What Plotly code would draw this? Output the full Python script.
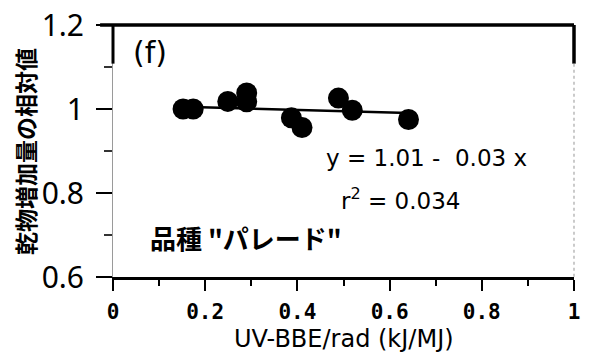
import plotly.graph_objects as go

# UV-BBE/rad (kJ/MJ) and relative dry-matter gain for cultivar "パレード"
uv_bbe = [0.152, 0.174, 0.249, 0.290, 0.290, 0.387, 0.410, 0.489, 0.519, 0.641]
rel_gain = [1.000, 1.000, 1.018, 1.038, 1.017, 0.979, 0.956, 1.026, 0.997, 0.975]

# fitted regression  y = a + b x
fit_a = 1.01
fit_b = -0.03
fit_r2 = 0.034

x_ticks = [0, 0.2, 0.4, 0.6, 0.8, 1]
x_tick_text = ["0", "0.2", "0.4", "0.6", "0.8", "1"]
y_ticks = [0.6, 0.8, 1.0, 1.2]
y_tick_text = ["0.6", "0.8", "1", "1.2"]

x_fit = [min(uv_bbe), max(uv_bbe)]
y_fit = [fit_a + fit_b * v for v in x_fit]

sans = "Noto Sans, Open Sans, sans-serif"
wide = "DejaVu Sans, sans-serif"
cjk = "Noto Sans CJK JP, sans-serif"
mono = "DejaVu Sans Mono, monospace"

fig = go.Figure()
fig.add_trace(go.Scatter(x=x_fit, y=y_fit, mode="lines",
                         line=dict(color="black", width=2.5),
                         hoverinfo="skip", showlegend=False))
fig.add_trace(go.Scatter(x=uv_bbe, y=rel_gain, mode="markers",
                         marker=dict(color="black", size=21),
                         showlegend=False))

fig.update_layout(
    width=593, height=354,
    margin=dict(l=113, r=19, t=25, b=77),
    paper_bgcolor="white", plot_bgcolor="white",
    xaxis=dict(range=[0, 1], tickvals=x_ticks, ticktext=x_tick_text,
               automargin=False,
               showgrid=False, zeroline=False,
               showline=True, linecolor="black", linewidth=3,
               ticks="outside", ticklen=11, tickwidth=2, tickcolor="black",
               minor=dict(dtick=0.1, ticks="outside", ticklen=6,
                          tickwidth=2, tickcolor="black"),
               ticklabelstandoff=3,
               tickfont=dict(family=mono, size=21, color="black",
                             weight="bold")),
    yaxis=dict(range=[0.6, 1.2], tickvals=y_ticks, ticktext=y_tick_text,
               automargin=False,
               showgrid=False, zeroline=False,
               showline=True, linecolor="#9a9a9a", linewidth=1,
               ticks="outside", ticklen=16, tickwidth=2, tickcolor="black",
               minor=dict(dtick=0.1, ticks="outside", ticklen=8,
                          tickwidth=1.5, tickcolor="#333"),
               ticklabelstandoff=6,
               tickfont=dict(family=sans, size=30, color="black")),
)

# axis titles
fig.add_annotation(x=0.5, y=-0.245, xref="paper", yref="paper",
                   text="UV-BBE/rad (kJ/MJ)", showarrow=False,
                   xanchor="center", yanchor="middle",
                   font=dict(family=wide, size=24, color="black"))
fig.add_annotation(x=-0.191, y=0.5, xref="paper", yref="paper",
                   text="<b>乾物増加量の相対値</b>", showarrow=False,
                   textangle=-90, xanchor="center", yanchor="middle",
                   font=dict(family=cjk, size=23, color="black"))

# frame: heavy top rule, heavy upper stubs, faint right edge
fig.add_shape(type="line", xref="paper", yref="paper",
              x0=-0.028, x1=1.0, y0=1.0, y1=1.0,
              line=dict(color="black", width=3.5))
fig.add_shape(type="line", xref="paper", yref="y",
              x0=1.0, x1=1.0, y0=1.2, y1=1.108,
              line=dict(color="black", width=3.5))
fig.add_shape(type="line", xref="paper", yref="y",
              x0=1.0, x1=1.0, y0=1.108, y1=0.6,
              line=dict(color="#a8a8a8", width=1.2, dash="dot"))
fig.add_shape(type="line", xref="paper", yref="y",
              x0=0.0, x1=0.0, y0=1.2, y1=1.108,
              line=dict(color="black", width=3))

fig.add_annotation(x=0.04, y=1.134, xref="paper", yref="y", text="(f)",
                   showarrow=False, xanchor="left", yanchor="middle",
                   font=dict(family=wide, size=30, color="black"))
fig.add_annotation(x=0.458, y=0.883, xref="x", yref="y",
                   text=f"y = {fit_a:.2f} -  {abs(fit_b):.2f} x",
                   showarrow=False, xanchor="left", yanchor="middle",
                   font=dict(family=wide, size=23, color="black"))
fig.add_annotation(x=0.49, y=0.785, xref="x", yref="y",
                   text=f"r<sup>2</sup> = {fit_r2:.3f}",
                   showarrow=False, xanchor="left", yanchor="middle",
                   font=dict(family=wide, size=23, color="black"))
fig.add_annotation(x=0.075, y=0.695, xref="x", yref="y",
                   text="<b>品種 \"パレード\"</b>",
                   showarrow=False, xanchor="left", yanchor="middle",
                   font=dict(family=cjk, size=26, color="black"))

fig.write_html("out.html")
